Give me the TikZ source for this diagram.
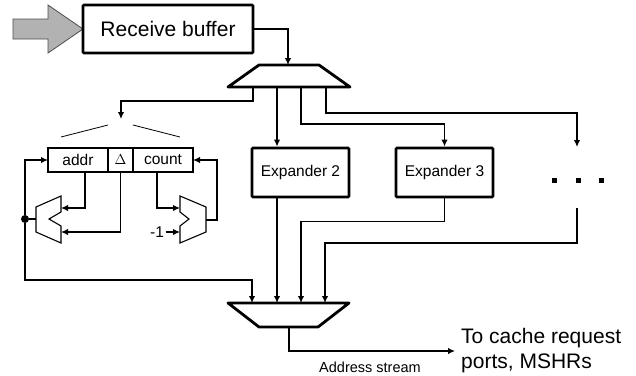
\documentclass[tikz,border=0pt]{standalone}
\usepackage{fontspec}
\setmainfont{Liberation Sans}
\usepackage{tikz}
\usetikzlibrary{positioning}
\usetikzlibrary{calc}
\usetikzlibrary{arrows.meta}

\begin{document}
\begin{tikzpicture}[x=1pt,y=-1pt,>={Latex[length=7pt,width=6.5pt]},
  wire/.style={line width=1.8pt},
  bigbox/.style={draw,line width=2.8pt,rounded corners=1pt,inner sep=0pt},
  cell/.style={draw,line width=1.1pt,minimum height=24pt,inner sep=0pt,outer sep=0pt,font=\fontsize{15.5}{18}\selectfont},
  alu/.style={draw,line width=1.1pt},
  mux/.style={draw,line width=2.8pt,line join=round}]
\useasboundingbox (0,0) rectangle (636,375);

% input and receive buffer
\draw[fill=gray!60,draw=gray!60!black,line width=0.8pt] (13,19) -- (48,19) -- (48,5) -- (83,29) -- (48,53) -- (48,39) -- (13,39) -- cycle;
\node (rb) at (168,29) [bigbox,minimum width=170pt,minimum height=48pt,font=\fontsize{21}{24}\selectfont] {Receive buffer};

% top mux
\draw[mux] (259,65) -- (319,65) -- (350,87) -- (228,87) -- cycle;
\coordinate (tin) at (288,65);
\foreach \x [count=\i] in {253,277,301,326} \coordinate (t\i) at (\x,87);
\draw[wire,->] (rb.east) -| (tin);

% expander 1: register and adders
\node (addr) at (78,160) [cell,minimum width=60pt] {addr};
\node (dlt) [cell,minimum width=25pt,right=0pt of addr] {$\Delta$};
\node (cnt) [cell,minimum width=60pt,right=0pt of dlt] {count};
\coordinate (fan) at (121,119);
\draw[line width=0.8pt] ($(addr.north west)+(13,-11)$) -- ($(dlt.north west)+(0,-23)$);
\draw[line width=0.8pt] ($(dlt.north east)+(0,-23)$) -- ($(cnt.north east)+(-13,-11)$);
\draw[wire,->] (t1) -- ++(0,14) -| (fan);

\draw[alu] (61,196) -- (61,212) -- (49,219) -- (61,226) -- (61,243) -- (36,232) -- (36,207) -- cycle;
\coordinate (aout) at (36,219);
\coordinate (ain1) at (61,208);
\coordinate (ain2) at (61,232);
\draw[alu] (180,196) -- (206,207) -- (206,232) -- (180,243) -- (180,226) -- (189,219) -- (180,212) -- cycle;
\coordinate (bout) at (206,220);
\coordinate (bin1) at (180,208);
\coordinate (bin2) at (180,232);

\draw[wire,->] ($(addr.south)+(7,0)$) |- (ain1);
\draw[wire,->] (dlt.south) |- (ain2);
\draw[wire,->] ($(cnt.south)+(-6,0)$) |- (bin1);
\node (m1) at (157,232) [font=\fontsize{15.5}{18}\selectfont,inner sep=2pt] {-1};
\draw[wire,->] (m1.east) -- (bin2);
\draw[wire,->] (bout) -- ++(11,0) |- (cnt.east);
\node (jn) at (25,219) [circle,fill,inner sep=0pt,minimum size=8pt] {};
\draw[wire] (aout) -- (jn);
\draw[wire,->] (jn) |- (addr.west);

% other expanders
\node (e2) at (300.5,172.5) [bigbox,minimum width=97pt,minimum height=49pt,font=\fontsize{15.5}{18}\selectfont] {Expander 2};
\node (e3) at (444.5,172.5) [bigbox,minimum width=97pt,minimum height=49pt,font=\fontsize{15.5}{18}\selectfont] {Expander 3};
\foreach \x in {554,578,601} \node (dt\x) at (\x,180) [fill,minimum size=5pt,inner sep=0pt] {};
\coordinate (dtop) at (577,147);
\coordinate (dbot) at (577,208);
\draw[wire,->] (t2) -- (t2 |- e2.north);
\draw[wire,->] (t3) -- ++(0,37) -| (e3.north);
\draw[wire,->] (t4) -- ++(0,26) -| (dtop);

% bottom mux
\draw[mux] (228,303) -- (349,303) -- (318,327) -- (259,327) -- cycle;
\foreach \x [count=\i] in {252,277,301,325} \coordinate (b\i) at (\x,303);
\coordinate (bmo) at (289,327);
\draw[wire,->] (jn) -- ++(0,61) -| (b1);
\draw[wire,->] (e2.south -| b2) -- (b2);
\draw[wire,->] (e3.south) -- ++(0,23) -| (b3);
\draw[wire,->] (dbot) -- ++(0,35) -| (b4);

\node (dest) at (455,351) [anchor=west,align=left,inner xsep=6pt,inner ysep=0pt,font=\fontsize{21}{25}\selectfont] {To cache request\\ports, MSHRs};
\draw[wire,->] (bmo) |- (dest.west);
\node (lbl) at (370,367) [font=\fontsize{14.5}{17}\selectfont] {Address stream};
\end{tikzpicture}
\end{document}
